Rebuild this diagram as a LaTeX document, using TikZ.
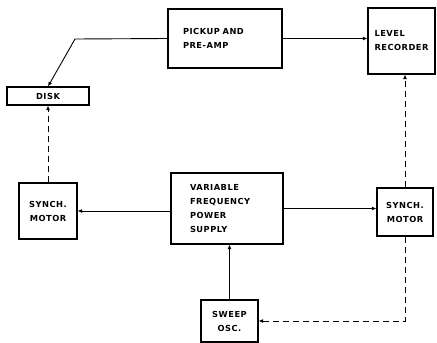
\documentclass[tikz,border=0pt]{standalone}
\usepackage{fontspec}
\setmainfont{DejaVu Sans}[LetterSpace=6]
\usetikzlibrary{arrows.meta,positioning}

\begin{document}
\begin{tikzpicture}[x=1pt,y=-1pt,font=\fontsize{8.3}{14}\selectfont\bfseries,
  b/.style={draw,line width=1.1pt,inner sep=0pt,align=left},
  a/.style={-{Latex[length=4.5pt,width=4pt]},line width=0.9pt},
  d/.style={a,dash pattern=on 6pt off 4pt}]
  \useasboundingbox (0,0) rectangle (437,343);
  % blocks
  \node[b,minimum width=114pt,minimum height=59pt,text width=84pt] (pk) at (225,38.5) {PICKUP AND\\PRE-AMP};
  \node[b,minimum width=67pt,minimum height=66pt,text width=54pt] (lr) at (401.5,41) {LEVEL\\RECORDER};
  \node[b,minimum width=82pt,minimum height=18pt,align=center] (dk) at (48,96) {DISK};
  \node[b,minimum width=58pt,minimum height=56pt,align=center] (sl) at (48,211) {SYNCH.\\MOTOR};
  \node[b,minimum width=112pt,minimum height=71pt,text width=74pt] (ps) at (227,208.5) {VARIABLE\\FREQUENCY\\POWER\\SUPPLY};
  \node[b,minimum width=56pt,minimum height=48pt,align=center] (sr) at (405,212) {SYNCH.\\MOTOR};
  \node[b,minimum width=57pt,minimum height=42pt,align=center] (sw) at (229.5,321) {SWEEP\\OSC.};
  \coordinate (kn) at (75,39);
  % connectors
  \draw[a] (pk.west) -- (kn) -- (dk.north);
  \draw[a] (pk.east) -- (pk.east -| lr.west);
  \draw[d] (sl.north) -- (dk.south);
  \draw[a] (ps.west |- sl.east) -- (sl.east);
  \draw[a] (ps.east) -- (ps.east -| sr.west);
  \draw[d] (sr.north) -- (sr.north |- lr.south);
  \draw[a] (sw.north) -- (sw.north |- ps.south);
  \draw[d] (sr.south) |- (sw.east);
\end{tikzpicture}
\end{document}
